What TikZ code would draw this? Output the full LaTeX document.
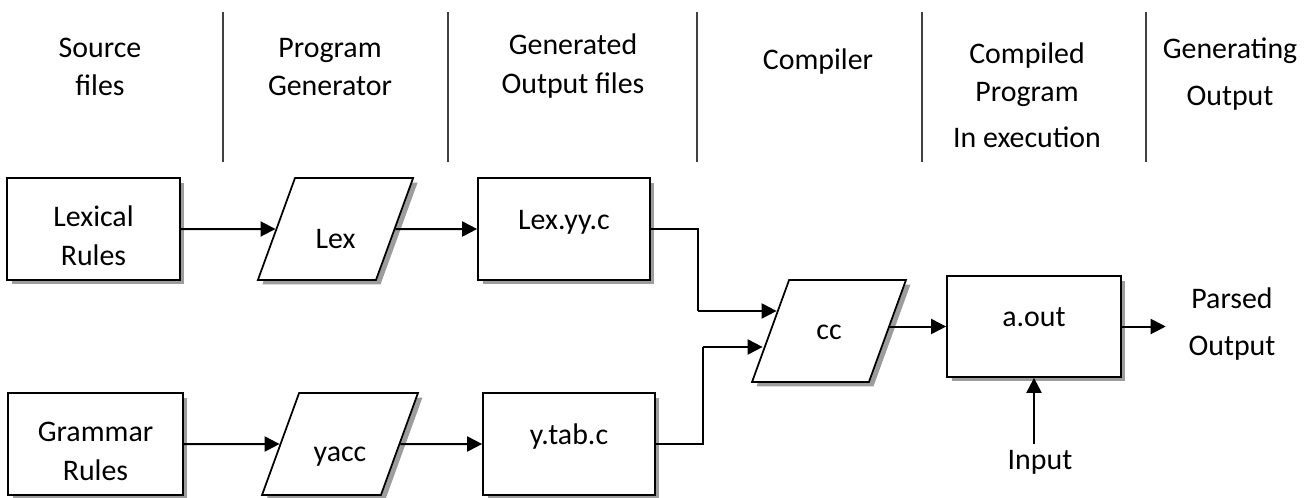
\documentclass[tikz,border=0pt]{standalone}
\usepackage{fontspec}
\setmainfont{Carlito}
\usetikzlibrary{calc,shapes.geometric,shadows,arrows.meta}
\def\twolines#1#2{\begin{tabular}[b]{@{}c@{}}#1\\#2\end{tabular}}
\tikzset{
  box/.style={draw, line width=0.35mm, fill=white, inner sep=0, align=center,
    minimum height=2.04cm,
    drop shadow={shadow xshift=0.09cm, shadow yshift=-0.09cm, fill=black!55, opacity=0.7}},
  para/.style={box, trapezium, trapezium left angle=70, trapezium right angle=110},
  hi/.style={text height=0.45cm, text depth=0.45cm},
  two/.style={text height=1.46cm, text depth=0cm},
  arr/.style={-{Triangle[length=0.3cm,width=0.3cm]}, line width=0.4mm},
  wire/.style={line width=0.25mm},
  sep/.style={line width=0.3mm, color=black!75},
  hdr/.style={align=center}
}

\begin{document}
\begin{tikzpicture}[x=0.02cm, y=-0.02cm, font=\fontsize{17}{22}\selectfont]
  \useasboundingbox (0,0) rectangle (1304,497);
  %%%%% HEADER %%%%%
  \foreach \x in {223,448,697,922,1146}
    \draw[sep] (\x,12) -- (\x,162);

  \node[hdr] (srcfiles) at (100,67) {Source\\files};
  \node[hdr] (proggen) at (330,67) {Program\\Generator};
  \node[hdr] (genfiles) at (573,66) {Generated\\Output files};
  \node[hdr] (compiler) at (818,62) {Compiler};
  \node[hdr] (compprog) at (1027,95) {Compiled\\Program\\[0.14cm]In execution};
  \node[hdr] (genout) at (1230,74) {Generating\\[0.18cm]Output};

  %%%%% LEX ROW %%%%%
  \node[box, two, minimum width=3.46cm] (lexrules) at (93.5,229) {\twolines{Lexical}{Rules}};
  \node[para, text width=1.62cm, text height=1.41cm, text depth=0.63cm] (lex) at (335.5,229) {Lex};
  \node[box, hi, minimum width=3.44cm] (lexyy) at (564,229) {Lex.yy.c};

  %%%%% YACC ROW %%%%%
  \node[box, two, minimum width=3.5cm] (grammar) at (95.5,444) {\twolines{Grammar}{Rules}};
  \node[para, text width=1.64cm, text height=1.36cm, text depth=0.68cm] (yacc) at (340,444) {yacc};
  \node[box, hi, minimum width=3.44cm] (ytab) at (569,444) {y.tab.c};

  %%%%% COMPILE %%%%%
  \node[para, text width=1.6cm, text height=1.18cm, text depth=0.86cm] (cc) at (829,331) {cc};
  \node[box, hi, minimum width=3.48cm, minimum height=2.02cm] (aout) at (1034,326.5) {a.out};
  \node[hdr, inner xsep=0.45cm] (parsed) at (1232,324) {Parsed\\[0.18cm]Output};
  \node (input) at (1040,462) {Input};

  %%%%% ARROWS %%%%%
  \draw[arr] (lexrules) -- (lex);
  \draw[arr] (lex) -- (lexyy);
  \draw[arr] (grammar) -- (yacc);
  \draw[arr] (yacc) -- (ytab);

  \coordinate (jlex) at (698,311);
  \coordinate (jyacc) at (703,347);
  \draw[wire] (lexyy.east) -| (jlex);
  \draw[arr] (jlex) -- ($(jlex -| cc.west)+(7,0)$);
  \draw[wire] (ytab.east) -| (jyacc);
  \draw[arr] (jyacc) -- ($(jyacc -| cc.west)+(-7,0)$);

  \draw[arr] (aout -| cc.east) -- (aout);
  \draw[arr] (aout) -- (aout -| parsed.west);
  \draw[arr] (aout.south |- input.north) -- (aout.south);
\end{tikzpicture}
\end{document}
